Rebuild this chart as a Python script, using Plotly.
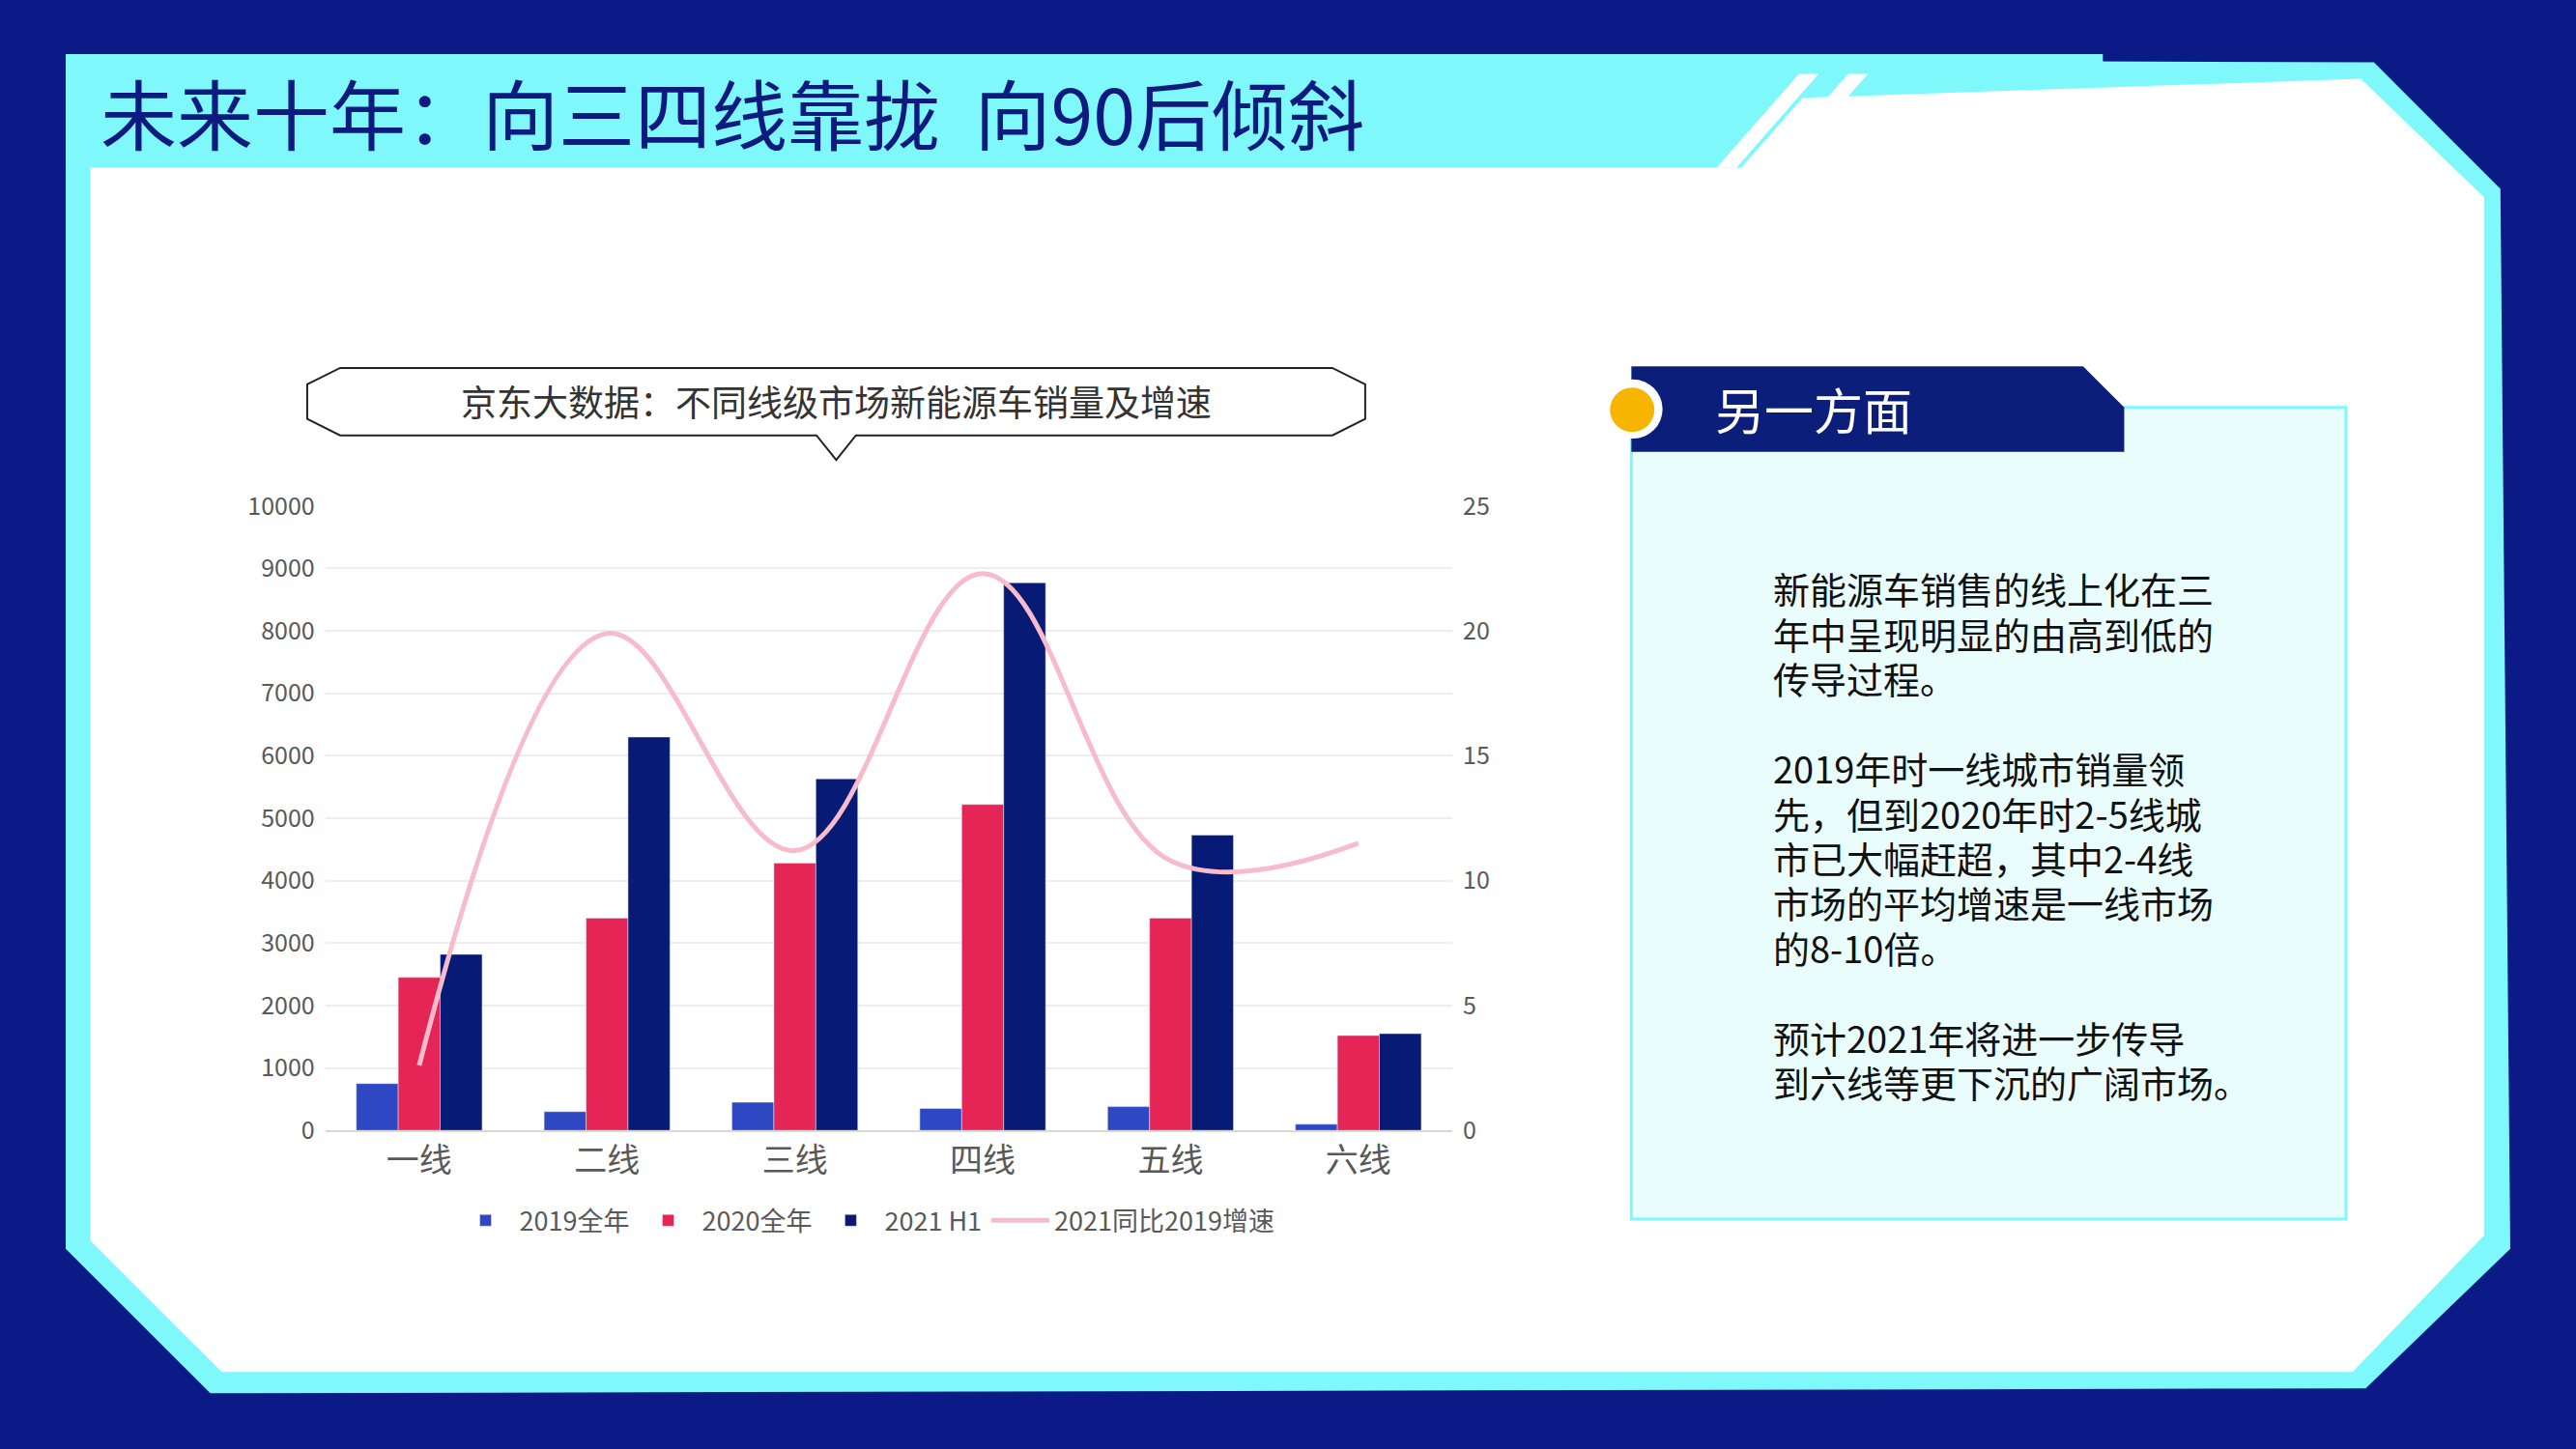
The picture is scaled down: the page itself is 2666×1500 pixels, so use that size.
import plotly.graph_objects as go

W, H = 2666, 1500
S = 2666 / 1568

categories = ["一线", "二线", "三线", "四线", "五线", "六线"]
sales_2019 = [750, 300, 450, 350, 380, 100]
sales_2020 = [2450, 3400, 4280, 5220, 3400, 1520]
sales_2021h1 = [2820, 6300, 5630, 8770, 4730, 1550]
growth = [2.6, 19.9, 11.2, 22.3, 10.8, 11.5]
y1_ticks = list(range(0, 10001, 1000))
y2_ticks = [0, 5, 10, 15, 20, 25]

def px(x): return x * S / W
def py(y):
    y = (y - 11.8) / 0.9756
    return 1 - y * S / H
def path(pts):
    return "M " + " L ".join(f"{px(x):.5f},{py(y):.5f}" for x, y in pts) + " Z"

fig = go.Figure()
fig.add_bar(x=categories, y=sales_2019, name="2019全年", marker_color="#2e47c2")
fig.add_bar(x=categories, y=sales_2020, name="2020全年", marker_color="#e52556")
fig.add_bar(x=categories, y=sales_2021h1, name="2021 H1", marker_color="#071a75")
fig.add_scatter(x=categories, y=growth, name="2021同比2019增速", yaxis="y2", mode="lines",
                line=dict(color="#f7bccb", width=5, shape="spline", smoothing=1.1))

shapes = []
shapes.append(dict(type="rect", xref="paper", yref="paper", x0=0, x1=1, y0=-0.05, y1=1.05,
                   fillcolor="#0b1a86", line_width=0, layer="below"))
shapes.append(dict(type="path", xref="paper", yref="paper", layer="below",
                   path=path([(40, 33), (1445, 38), (1522, 115), (1528, 760), (1440, 845), (128, 848), (40, 760)]),
                   fillcolor="#7ef8fb", line_width=0))
shapes.append(dict(type="path", xref="paper", yref="paper", layer="below",
                   path=path([(55, 95), (1437, 48), (1512, 120), (1512, 752), (1432, 835), (135, 835), (55, 755)]),
                   fillcolor="#ffffff", line_width=0))
shapes.append(dict(type="path", xref="paper", yref="paper", layer="below",
                   path=path([(40, 33), (1280, 33), (1280, 45), (1110, 45), (1060, 102), (40, 102)]),
                   fillcolor="#7ef8fb", line_width=0))
for a in (1045, 1075):
    shapes.append(dict(type="path", xref="paper", yref="paper", layer="below",
                       path=path([(a, 102), (a + 12, 102), (a + 62, 45), (a + 50, 45)]),
                       fillcolor="#ffffff", line_width=0))
shapes.append(dict(type="rect", xref="paper", yref="paper", layer="below",
                   x0=px(993), x1=px(1428), y0=py(742), y1=py(248),
                   fillcolor="#e9fdfd", line=dict(color="#7ef8fb", width=3)))
shapes.append(dict(type="path", xref="paper", yref="paper", layer="below",
                   path=path([(993, 223), (1268, 223), (1293, 248), (1293, 275), (993, 275)]),
                   fillcolor="#0b1f7a", line_width=0))
shapes.append(dict(type="circle", xref="paper", yref="paper", layer="above",
                   x0=px(976), x1=px(1012), y0=py(267), y1=py(231),
                   fillcolor="#ffffff", line_width=0))
shapes.append(dict(type="circle", xref="paper", yref="paper", layer="above",
                   x0=px(980), x1=px(1007), y0=py(263), y1=py(236),
                   fillcolor="#f7b500", line_width=0))
shapes.append(dict(type="path", xref="paper", yref="paper", layer="below",
                   path=path([(207, 224), (811, 224), (831, 234), (831, 255), (811, 265), (521, 265),
                              (509, 280), (497, 265), (207, 265), (187, 255), (187, 234)]),
                   fillcolor="#ffffff", line=dict(color="#222", width=2)))

annotations = [
    dict(text="未来十年：向三四线靠拢  向90后倾斜", x=px(60), y=py(68), xref="paper", yref="paper",
         xanchor="left", yanchor="middle", showarrow=False,
         font=dict(size=79, color="#0d1a80", family="Noto Sans CJK SC")),
    dict(text="京东大数据：不同线级市场新能源车销量及增速", x=px(509), y=py(244), xref="paper", yref="paper",
         xanchor="center", yanchor="middle",
         showarrow=False, font=dict(size=37, color="#333", family="Noto Sans CJK SC")),
    dict(text="另一方面", x=px(1043), y=py(249), xref="paper", yref="paper", xanchor="left", yanchor="middle",
         showarrow=False, font=dict(size=51, color="#ffffff", family="Noto Sans CJK SC")),
]
lines = ["新能源车销售的线上化在三", "年中呈现明显的由高到低的", "传导过程。", "",
         "2019年时一线城市销量领", "先，但到2020年时2-5线城", "市已大幅赶超，其中2-4线",
         "市场的平均增速是一线市场", "的8-10倍。", "",
         "预计2021年将进一步传导", "到六线等更下沉的广阔市场。"]
for i, t in enumerate(lines):
    if t:
        annotations.append(dict(text=t, x=px(1078), y=py(358 + i * 27.3), xref="paper", yref="paper",
                                xanchor="left", yanchor="middle", showarrow=False,
                                font=dict(size=38, color="#111", family="Noto Sans CJK SC")))

tick_font = dict(size=25, color="#595959", family="Noto Sans CJK SC")
fig.update_layout(
    width=W, height=H, margin=dict(l=0, r=0, t=0, b=0),
    paper_bgcolor="#0b1a86", plot_bgcolor="rgba(0,0,0,0)",
    barmode="group", bargap=0.33, bargroupgap=0,
    shapes=shapes, annotations=annotations,
    font=dict(family="Noto Sans CJK SC"),
    xaxis=dict(domain=[px(198), px(884)], tickfont=dict(size=34, color="#595959"),
               showline=True, linecolor="#d9d9d9", linewidth=2, ticks=""),
    yaxis=dict(domain=[py(688), py(308)], range=[0, 10000], tickvals=y1_ticks,
               ticktext=[str(v) for v in y1_ticks],
               tickfont=tick_font, gridcolor="#eeeeee", gridwidth=2, zeroline=False, ticklabelstandoff=10),
    yaxis2=dict(overlaying="y", side="right", range=[0, 25], tickvals=y2_ticks,
                tickfont=tick_font, showgrid=False, zeroline=False, ticklabelstandoff=10),
    legend=dict(orientation="h", x=px(527), xanchor="center", y=py(743), yanchor="middle",
                font=dict(size=27, color="#595959"), bgcolor="rgba(0,0,0,0)", itemwidth=60),
    showlegend=True,
)
fig.write_html("out.html", config={"displayModeBar": False},
               post_script="document.body.style.margin='0';document.body.style.overflow='hidden';")
